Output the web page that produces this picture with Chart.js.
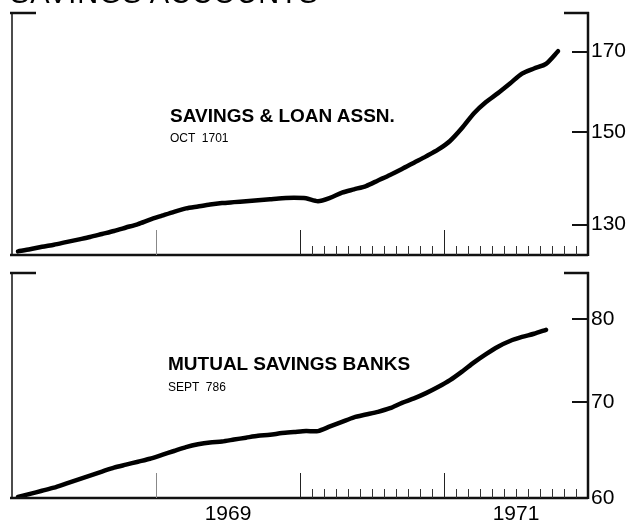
<!DOCTYPE html>
<html>
<head>
<meta charset="utf-8">
<script src="https://cdn.jsdelivr.net/npm/chart.js@4"></script>
<style>
  html, body { margin: 0; padding: 0; background: #fff; }
  #wrap { position: relative; width: 628px; height: 522px; overflow: hidden; font-family: "Liberation Sans", Arial, sans-serif; color: #000; }
  canvas { position: absolute; left: 0; }
  #c1 { top: 0; }
  #c2 { top: 262px; }
  .t { position: absolute; line-height: 1; white-space: pre; }
  #title { left: 10px; top: -21px; font-size: 29px; letter-spacing: 0.8px; }
  .big { font-size: 19px; font-weight: bold; }
  .small { font-size: 12px; }
</style>
</head>
<body>
<div id="wrap">
  <canvas id="c1" width="628" height="262"></canvas>
  <canvas id="c2" width="628" height="260"></canvas>
  <div class="t" id="title">SAVINGS ACCOUNTS</div>
  <div class="t big" style="left:170px; top:106px;">SAVINGS &amp; LOAN ASSN.</div>
  <div class="t small" style="left:170px; top:132px;">OCT  1701</div>
  <div class="t big" style="left:168px; top:354px;">MUTUAL SAVINGS BANKS</div>
  <div class="t small" style="left:168px; top:381px;">SEPT  786</div>
</div>
<script>
// monthly totals, Jan 1968 onward (billions of dollars)
const slValues = [
  124.7, 125.1, 125.6, 126.0, 126.5, 127.0, 127.5, 128.1, 128.7, 129.4, 130.1, 131.0,
  131.8, 132.6, 133.3, 133.7, 134.1, 134.4, 134.6, 134.8, 135.0, 135.2, 135.4, 135.5,
  135.4, 134.8, 135.5, 136.6, 137.3, 138.0, 139.2, 140.4, 141.7, 143.1, 144.5, 146.0,
  148.0, 151.0, 154.5, 157.2, 159.4, 161.8, 164.3, 165.6, 166.8, 170.1
];
const msbValues = [
  60.1, 60.4, 60.7, 61.0, 61.4, 61.8, 62.2, 62.6, 63.0, 63.3, 63.6, 63.9,
  64.3, 64.7, 65.1, 65.4, 65.6, 65.7, 65.9, 66.1, 66.3, 66.4, 66.6, 66.7,
  66.8, 66.8, 67.3, 67.8, 68.3, 68.6, 68.9, 69.3, 69.9, 70.4, 71.0, 71.7,
  72.5, 73.5, 74.6, 75.6, 76.5, 77.2, 77.7, 78.1, 78.6
];
const slTicks = [130, 150, 170];
const msbTicks = [60, 70, 80];
const yearLabelMonths = [18, 42];
const yearLabels = ["1969", "1971"];
const totalMonths = 48;

const tickFont = { family: "Liberation Sans", size: 21 };

// frame: thin left edge, heavy right/bottom axes, inward tick marks
const framePlugin = {
  id: "frame",
  afterDraw(chart) {
    const { ctx, chartArea: a, scales: { x, y } } = chart;
    const line = (x1, y1, x2, y2) => { ctx.beginPath(); ctx.moveTo(x1, y1); ctx.lineTo(x2, y2); ctx.stroke(); };
    ctx.save();
    ctx.strokeStyle = "#111";
    ctx.lineWidth = 1.5;
    line(a.left, a.top, a.left, a.bottom);
    ctx.lineWidth = 2.5;
    line(a.right, a.top - 1, a.right, a.bottom + 1);
    line(a.left - 2, a.bottom, a.right, a.bottom);
    line(a.left - 2, a.top, a.left + 24, a.top);
    line(a.right - 24, a.top, a.right + 1, a.top);
    ctx.lineWidth = 2;
    y.ticks.forEach(t => {
      const py = Math.round(y.getPixelForValue(t.value));
      line(a.right - 16, py, a.right, py);
    });
    for (let m = 1; m < totalMonths; m++) {
      const px = Math.round(x.getPixelForValue(m)) + 0.5;
      if (m % 12 === 0) {
        ctx.strokeStyle = m === 12 ? "#888" : "#222";
        ctx.lineWidth = 1;
        line(px, a.bottom, px, a.bottom - 25);
      } else if (m > 24) {
        ctx.strokeStyle = "#333";
        ctx.lineWidth = 1;
        line(px, a.bottom, px, a.bottom - 9);
      }
    }
    ctx.restore();
  }
};

function makeChart(id, values, yTicks, yMin, yMax, padTop, padBottom, showYears) {
  return new Chart(document.getElementById(id), {
    type: "line",
    data: {
      datasets: [{
        data: values.map((v, i) => ({ x: i + 0.5, y: v })),
        borderColor: "#000",
        borderWidth: 4.5,
        pointRadius: 0,
        tension: 0.25,
        borderCapStyle: "round",
        borderJoinStyle: "round"
      }]
    },
    options: {
      responsive: false,
      animation: false,
      layout: { padding: { left: 12, right: 0, top: padTop, bottom: padBottom } },
      plugins: { legend: { display: false }, tooltip: { enabled: false } },
      scales: {
        x: {
          type: "linear",
          min: 0,
          max: totalMonths,
          grid: { display: false, tickLength: 0 },
          border: { display: false },
          afterBuildTicks: s => { s.ticks = yearLabelMonths.map(v => ({ value: v })); },
          afterFit: s => { s.height = showYears ? 24 : 0; s.paddingLeft = 0; s.paddingRight = 0; },
          ticks: {
            display: showYears,
            autoSkip: false,
            maxRotation: 0,
            padding: 4,
            color: "#000",
            font: tickFont,
            callback: v => yearLabels[yearLabelMonths.indexOf(v)] || ""
          }
        },
        y: {
          type: "logarithmic",
          position: "right",
          min: yMin,
          max: yMax,
          grid: { display: false, tickLength: 0 },
          border: { display: false },
          afterBuildTicks: s => { s.ticks = yTicks.map(v => ({ value: v })); },
          afterFit: s => { s.width = 40; s.paddingTop = 0; s.paddingBottom = 0; },
          ticks: {
            padding: 3,
            color: "#000",
            font: tickFont,
            callback: v => String(v)
          }
        }
      }
    },
    plugins: [framePlugin]
  });
}

makeChart("c1", slValues, slTicks, 124, 180.5, 13, 7, false);
makeChart("c2", msbValues, msbTicks, 60, 86.1, 11, 0, true);
</script>
</body>
</html>
